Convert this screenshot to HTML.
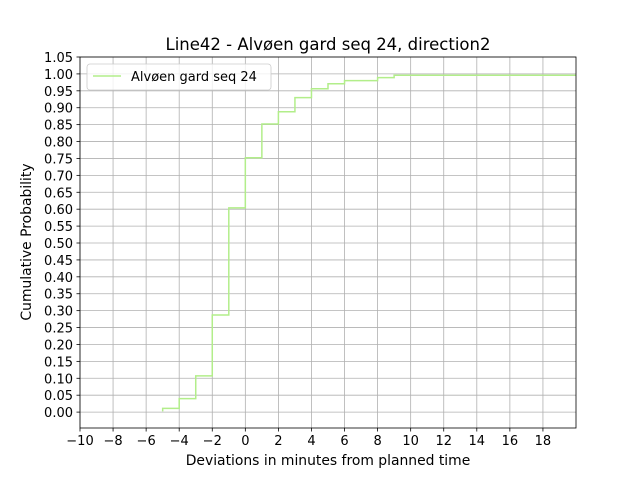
<!DOCTYPE html>
<html><head><meta charset="utf-8"><style>
body{margin:0;background:#fff;font-family:"Liberation Sans","DejaVu Sans",sans-serif;}
svg text{font-family:"DejaVu Sans","Liberation Sans",sans-serif;}
</style></head><body>
<svg id="chart" width="640" height="480" viewBox="0 0 640 480">
<rect width="640" height="480" fill="#fff"/>
<g id="grid"></g><g id="series"></g><g id="axes"></g>
</svg>
<script>
const stepX = [-5,-4,-3,-2,-1,0,1,2,3,4,5,6,8,9];
const stepY = [0.011,0.040,0.107,0.287,0.604,0.752,0.852,0.888,0.930,0.956,0.971,0.980,0.989,0.996];
const xTicks = [-10,-8,-6,-4,-2,0,2,4,6,8,10,12,14,16,18];
const yTicks = [0,0.05,0.1,0.15,0.2,0.25,0.3,0.35,0.4,0.45,0.5,0.55,0.6,0.65,0.7,0.75,0.8,0.85,0.9,0.95,1.0,1.05];
const xMin=-10,xMax=20,yMin=-0.047,yMax=1.05;
const L=80,R=576,T=57,B=428;
const sx=v=>L+(v-xMin)/(xMax-xMin)*(R-L);
const sy=v=>B-(v-yMin)/(yMax-yMin)*(B-T);
const NS="http://www.w3.org/2000/svg";
function mk(tag,attrs,parent,text){const e=document.createElementNS(NS,tag);for(const k in attrs)e.setAttribute(k,attrs[k]);if(text!==undefined)e.textContent=text;parent.appendChild(e);return e;}
const grid=document.getElementById('grid'),axes=document.getElementById('axes'),series=document.getElementById('series');
xTicks.forEach(t=>{const x=sx(t);
 const g=mk('line',{x1:x,x2:x,y1:T,y2:B,stroke:'#b0b0b0','stroke-width':0.8},grid);
 
 mk('line',{x1:x,x2:x,y1:B,y2:B+3.5,stroke:'#000','stroke-width':0.8},axes);
 const lb=mk('text',{x:x,y:B+17,'font-size':13,'text-anchor':'middle'},axes,(t<0?'\u2212'+(-t):t));
 
});
yTicks.forEach(t=>{const y=sy(t);
 const g=mk('line',{x1:L,x2:R,y1:y,y2:y,stroke:'#b0b0b0','stroke-width':0.8},grid);
 
 mk('line',{x1:L-3.5,x2:L,y1:y,y2:y,stroke:'#000','stroke-width':0.8},axes);
 const lb=mk('text',{x:L-7,y:y+5,'font-size':13,'text-anchor':'end'},axes,t.toFixed(2));
 
});
let d='M'+sx(stepX[0])+','+sy(0.002);
stepX.forEach((x,i)=>{const y=sy(stepY[i]);d+=' L'+sx(x)+','+y;const nx=i+1<stepX.length?stepX[i+1]:xMax;d+=' L'+sx(nx)+','+y;});
const p=mk('path',{d:d,fill:'none',stroke:'#b2ee8a','stroke-width':1.5},series);

const fr=mk('rect',{x:L,y:T,width:R-L,height:B-T,fill:'none',stroke:'#000','stroke-width':0.8},axes);

</script>
<svg style="position:absolute;left:0;top:0" width="640" height="480">
<text x="328" y="50" font-size="16.5" text-anchor="middle">Line42 - Alvøen gard seq 24, direction2</text>
<text x="328" y="465" font-size="13.9" text-anchor="middle">Deviations in minutes from planned time</text>
<text transform="translate(31,242) rotate(-90)" font-size="13.9" text-anchor="middle">Cumulative Probability</text>
<g>
<rect x="87" y="64" width="184" height="26" rx="3" fill="#fff" fill-opacity="0.8" stroke="#ccc" stroke-width="0.8"/>
<line x1="93" y1="76" x2="121" y2="76" stroke="#b2ee8a" stroke-width="1.5"/>
<text x="131" y="81" font-size="13">Alvøen gard seq 24</text>
</g>
</svg>
</body></html>
